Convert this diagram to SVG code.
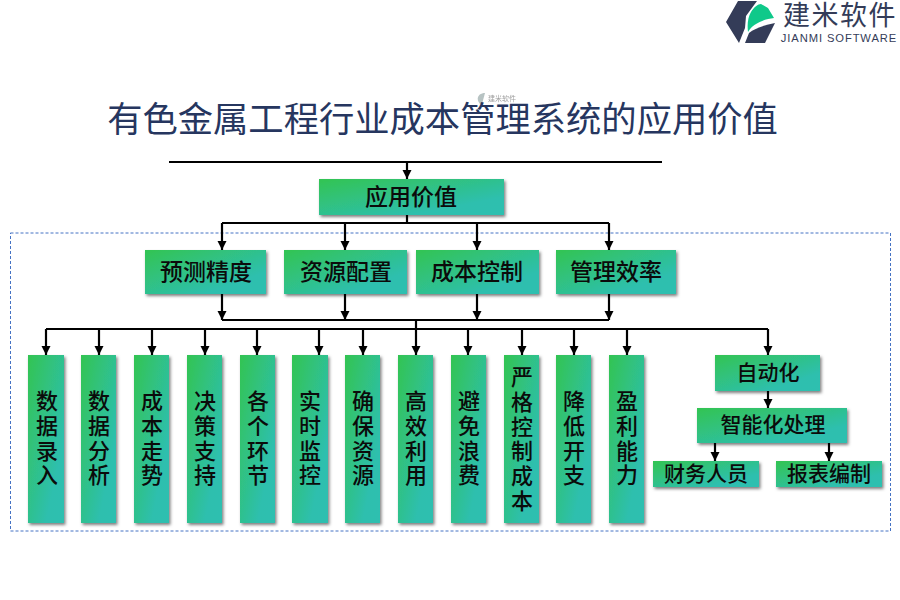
<svg xmlns="http://www.w3.org/2000/svg" width="900" height="600" viewBox="0 0 900 600">
<style>
text{font-family:"Noto Sans CJK SC","Liberation Serif",sans-serif;fill:#0b0b0b;text-anchor:middle}
.n{fill:url(#g);filter:url(#s)}
.t1{font-size:23px;font-weight:500}
.t2{font-size:22px;font-weight:500}
.t3{font-size:21px;font-weight:500}
.c path{fill:none;stroke:#000;stroke-width:2.2}
.c .a{marker-end:url(#arr)}
</style>
<defs>
<linearGradient id="g" x1="0" y1="0" x2="1" y2="1"><stop offset="0" stop-color="#33c452"/><stop offset="0.75" stop-color="#2dbfae"/><stop offset="1" stop-color="#2dbfb0"/></linearGradient>
<filter id="s" x="-20%" y="-20%" width="140%" height="140%"><feDropShadow dx="1.5" dy="2" stdDeviation="1.6" flood-color="#000" flood-opacity="0.5"/></filter>
<marker id="arr" markerUnits="userSpaceOnUse" markerWidth="10" markerHeight="10" refX="9" refY="4.5" orient="auto"><path d="M0 0L9 4.5L0 9Z" fill="#000"/></marker>
</defs>
<rect width="900" height="600" fill="#fff"/>
<g id="logo">
<path d="M726 22L738 1H757L746 16L745 28L739 43Z" fill="#343c58"/>
<path d="M748 32C747 24 748 17 751 12C754 7 758 4 761 4L768 8L774 18C765 19 753 23 748 32Z" fill="#0fc98a"/>
<path d="M745 43L749 33C755 28 765 25 775 23L765 43Z" fill="#343c58"/>
<text x="840" y="25" style="font-size:27px;fill:#343c58;letter-spacing:1.500px">建米软件</text>
<text x="839" y="42" style="font-family:'Liberation Sans',sans-serif;font-size:11.2px;fill:#343c58;letter-spacing:0.9px">JIANMI SOFTWARE</text>
</g>
<g id="watermark" opacity="0.7">
<path d="M480 104C475 98 479 93 485 93L482 104Z" fill="#9aa"/>
<text x="502" y="101" style="font-size:7px;fill:#777">建米软件</text>
</g>
<text id="title" x="442.500" y="132" style="font-size:35.300px;fill:#26365f">有色金属工程行业成本管理系统的应用价值</text>
<rect id="frame" x="10.500" y="233" width="880" height="298" fill="none" stroke="#4472c4" stroke-width="1" stroke-dasharray="3 2"/>
<g id="connectors" class="c">
<path d="M169 162H662"/>
<path class="a" d="M407 162V179"/>
<path d="M407 215V223"/>
<path d="M222 223H609"/>
<path class="a" d="M222 223V250"/><path class="a" d="M345 223V250"/><path class="a" d="M477 223V250"/><path class="a" d="M609 223V250"/>
<path class="a" d="M222 294V320"/><path class="a" d="M345 294V320"/><path class="a" d="M477 294V320"/><path class="a" d="M609 294V320"/>
<path d="M222 320H609"/>
<path d="M416 320V329"/>
<path d="M46 329H768"/>
<path class="a" d="M46 329V355"/><path class="a" d="M99 329V355"/><path class="a" d="M152 329V355"/><path class="a" d="M205 329V355"/><path class="a" d="M257 329V355"/><path class="a" d="M319 329V355"/><path class="a" d="M363 329V355"/><path class="a" d="M416 329V355"/><path class="a" d="M468 329V355"/><path class="a" d="M522 329V355"/><path class="a" d="M574 329V355"/><path class="a" d="M627 329V355"/><path class="a" d="M768 329V355"/>
<path class="a" d="M768 391V408"/>
<path class="a" d="M715 443V461"/><path class="a" d="M829 443V461"/>
</g>
<g id="n-root"><rect class="n" x="319" y="179" width="185" height="36"/><text class="t1" x="411" y="205">应用价值</text></g>
<g id="n-a1"><rect class="n" x="145" y="250" width="121" height="44"/><text class="t1" x="206" y="280">预测精度</text></g>
<g id="n-a2"><rect class="n" x="284" y="250" width="123" height="44"/><text class="t1" x="346" y="280">资源配置</text></g>
<g id="n-a3"><rect class="n" x="416" y="250" width="123" height="44"/><text class="t1" x="477" y="280">成本控制</text></g>
<g id="n-a4"><rect class="n" x="556" y="250" width="120" height="44"/><text class="t1" x="616" y="280">管理效率</text></g>
<g id="n-b1"><rect class="n" x="28" y="355" width="36" height="168"/><text class="t2"><tspan x="47" y="409">数</tspan><tspan x="47" y="434">据</tspan><tspan x="47" y="459">录</tspan><tspan x="47" y="483">入</tspan></text></g>
<g id="n-b2"><rect class="n" x="81" y="355" width="35" height="168"/><text class="t2"><tspan x="99" y="409">数</tspan><tspan x="99" y="434">据</tspan><tspan x="99" y="459">分</tspan><tspan x="99" y="483">析</tspan></text></g>
<g id="n-b3"><rect class="n" x="134" y="355" width="35" height="168"/><text class="t2"><tspan x="152" y="409">成</tspan><tspan x="152" y="434">本</tspan><tspan x="152" y="459">走</tspan><tspan x="152" y="483">势</tspan></text></g>
<g id="n-b4"><rect class="n" x="187" y="355" width="35" height="168"/><text class="t2"><tspan x="205" y="409">决</tspan><tspan x="205" y="434">策</tspan><tspan x="205" y="459">支</tspan><tspan x="205" y="483">持</tspan></text></g>
<g id="n-b5"><rect class="n" x="240" y="355" width="35" height="168"/><text class="t2"><tspan x="258" y="409">各</tspan><tspan x="258" y="434">个</tspan><tspan x="258" y="459">环</tspan><tspan x="258" y="483">节</tspan></text></g>
<g id="n-b6"><rect class="n" x="292" y="355" width="36" height="168"/><text class="t2"><tspan x="310" y="409">实</tspan><tspan x="310" y="434">时</tspan><tspan x="310" y="459">监</tspan><tspan x="310" y="483">控</tspan></text></g>
<g id="n-b7"><rect class="n" x="345" y="355" width="35" height="168"/><text class="t2"><tspan x="363" y="409">确</tspan><tspan x="363" y="434">保</tspan><tspan x="363" y="459">资</tspan><tspan x="363" y="483">源</tspan></text></g>
<g id="n-b8"><rect class="n" x="398" y="355" width="35" height="168"/><text class="t2"><tspan x="416" y="409">高</tspan><tspan x="416" y="434">效</tspan><tspan x="416" y="459">利</tspan><tspan x="416" y="483">用</tspan></text></g>
<g id="n-b9"><rect class="n" x="451" y="355" width="35" height="168"/><text class="t2"><tspan x="469" y="409">避</tspan><tspan x="469" y="434">免</tspan><tspan x="469" y="459">浪</tspan><tspan x="469" y="483">费</tspan></text></g>
<g id="n-b10"><rect class="n" x="504" y="355" width="35" height="168"/><text class="t2"><tspan x="522" y="385">严</tspan><tspan x="522" y="410">格</tspan><tspan x="522" y="435">控</tspan><tspan x="522" y="459">制</tspan><tspan x="522" y="484">成</tspan><tspan x="522" y="509">本</tspan></text></g>
<g id="n-b11"><rect class="n" x="556" y="355" width="35" height="168"/><text class="t2"><tspan x="574" y="409">降</tspan><tspan x="574" y="434">低</tspan><tspan x="574" y="459">开</tspan><tspan x="574" y="483">支</tspan></text></g>
<g id="n-b12"><rect class="n" x="609" y="355" width="35" height="168"/><text class="t2"><tspan x="627" y="409">盈</tspan><tspan x="627" y="434">利</tspan><tspan x="627" y="459">能</tspan><tspan x="627" y="483">力</tspan></text></g>
<g id="n-c1"><rect class="n" x="715" y="355" width="105" height="36"/><text class="t3" x="768" y="380">自动化</text></g>
<g id="n-c2"><rect class="n" x="697" y="408" width="150" height="35"/><text class="t3" x="773" y="432">智能化处理</text></g>
<g id="n-c3"><rect class="n" x="653" y="461" width="106" height="26"/><text class="t3" x="706" y="481">财务人员</text></g>
<g id="n-c4"><rect class="n" x="776" y="461" width="106" height="26"/><text class="t3" x="829" y="481">报表编制</text></g>
</svg>
